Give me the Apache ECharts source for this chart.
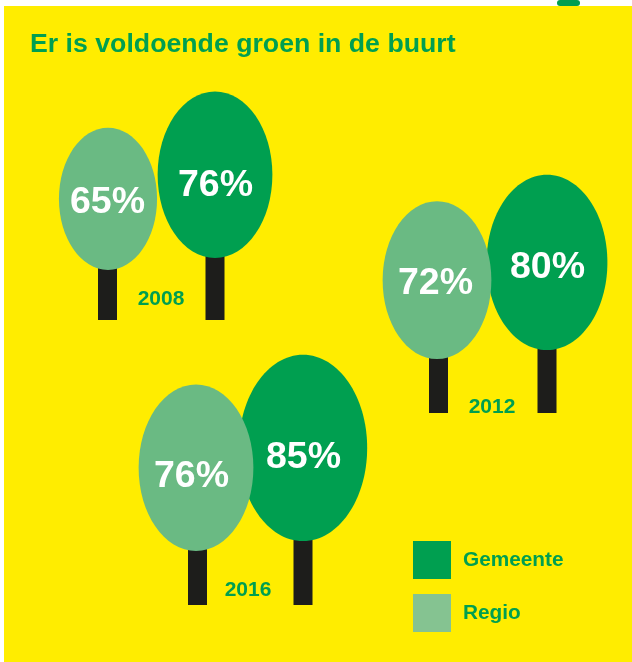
<!DOCTYPE html>
<html>
<head>
<meta charset="utf-8">
<title>Er is voldoende groen in de buurt</title>
<script src="https://cdn.jsdelivr.net/npm/echarts@6/dist/echarts.min.js"></script>
<style>
  html, body { margin: 0; padding: 0; background: #fff; }
  #chart { width: 632px; height: 662px; }
</style>
</head>
<body>
<div id="chart"></div>
<script>
// data
const titleText = 'Er is voldoende groen in de buurt';
const years = ['2008', '2012', '2016'];
const gemeente = [76, 80, 85];
const regio = [65, 72, 76];

// layout per year, in page pixels (the hidden axes run 0-632 and 0-662)
const gemeenteX = [215, 547, 303];
const gemeenteBottom = [258, 350, 541];
const gemeenteLabelX = [215.5, 547.5, 303.5];
const gemeenteLabelY = [186, 268, 458];
const regioX = [108, 437, 196];
const regioBottom = [270, 359, 551];
const regioLabelX = [107.5, 435.5, 191.5];
const regioLabelY = [203, 284, 477];
const regioTrunkX = [107.5, 438.5, 197.5];
const groundY = [320, 413, 605];
const yearX = [161, 492, 248];
const yearY = [299, 407, 590];

// crown size grows with the percentage
const crownWidth = 1.51;
const crownHeight = 2.19;
const trunkWidth = 19;

const GREEN = '#009F50';
const LIGHT = '#6ABA83';
const LEGEND_LIGHT = '#85C391';
const TRUNK = '#1D1D1B';
const YELLOW = '#FFED00';
const FONT = '"Liberation Sans", Arial, sans-serif';

function renderTree(color) {
  return function (params, api) {
    const crownBase = api.coord([api.value(0), api.value(1)]);
    const ground = api.coord([api.value(3), api.value(2)]);
    const label = api.coord([api.value(4), api.value(5)]);
    const value = api.value(6);
    const size = api.size([value * crownWidth, value * crownHeight]);
    const rx = size[0] / 2;
    const ry = size[1] / 2;
    return {
      type: 'group',
      children: [{
        type: 'rect',
        shape: { x: ground[0] - trunkWidth / 2, y: crownBase[1] - 2, width: trunkWidth, height: ground[1] - crownBase[1] + 2 },
        style: { fill: TRUNK }
      }, {
        type: 'ellipse',
        shape: { cx: crownBase[0], cy: crownBase[1] - ry, rx: rx, ry: ry },
        style: { fill: color }
      }, {
        type: 'text',
        x: label[0],
        y: label[1],
        style: {
          text: value + '%',
          fill: '#fff',
          font: 'bold 37.5px ' + FONT,
          textAlign: 'center',
          textVerticalAlign: 'middle'
        }
      }]
    };
  };
}

function renderYear(params, api) {
  const p = api.coord([api.value(0), api.value(1)]);
  return {
    type: 'text',
    x: p[0],
    y: p[1],
    style: {
      text: years[params.dataIndex],
      fill: GREEN,
      font: 'bold 21px ' + FONT,
      textAlign: 'center',
      textVerticalAlign: 'middle'
    }
  };
}

const chart = echarts.init(document.getElementById('chart'));
chart.setOption({
  animation: false,
  backgroundColor: '#fff',
  graphic: [{
    type: 'rect', z: -10, silent: true,
    shape: { x: 4, y: 6, width: 628, height: 656 },
    style: { fill: YELLOW }
  }, {
    type: 'rect', z: -10, silent: true,
    shape: { x: 557, y: 0, width: 23, height: 6, r: 3 },
    style: { fill: GREEN }
  }],
  title: {
    text: titleText,
    left: 30,
    top: 31,
    padding: 0,
    textStyle: { color: GREEN, fontFamily: FONT, fontSize: 26.7, fontWeight: 'bold' }
  },
  legend: {
    left: 413,
    top: 541,
    padding: 0,
    orient: 'vertical',
    itemWidth: 38,
    itemHeight: 38,
    itemGap: 15,
    icon: 'rect',
    selectedMode: false,
    textStyle: { color: GREEN, fontFamily: FONT, fontSize: 20.8, fontWeight: 'bold', padding: [6, 0, 0, 7] },
    data: [
      { name: 'Gemeente', itemStyle: { color: GREEN } },
      { name: 'Regio', itemStyle: { color: LEGEND_LIGHT } }
    ]
  },
  grid: { left: 0, right: 0, top: 0, bottom: 0 },
  xAxis: { type: 'value', min: 0, max: 632, show: false },
  yAxis: { type: 'value', min: 0, max: 662, inverse: true, show: false },
  series: [{
    name: 'Gemeente',
    type: 'custom',
    clip: false,
    itemStyle: { color: GREEN },
    renderItem: renderTree(GREEN),
    data: gemeente.map((v, i) => [gemeenteX[i], gemeenteBottom[i], groundY[i], gemeenteX[i], gemeenteLabelX[i], gemeenteLabelY[i], v])
  }, {
    name: 'Regio',
    type: 'custom',
    clip: false,
    itemStyle: { color: LEGEND_LIGHT },
    renderItem: renderTree(LIGHT),
    data: regio.map((v, i) => [regioX[i], regioBottom[i], groundY[i], regioTrunkX[i], regioLabelX[i], regioLabelY[i], v])
  }, {
    name: 'Jaar',
    type: 'custom',
    clip: false,
    renderItem: renderYear,
    data: years.map((y, i) => [yearX[i], yearY[i]])
  }]
});
</script>
</body>
</html>
